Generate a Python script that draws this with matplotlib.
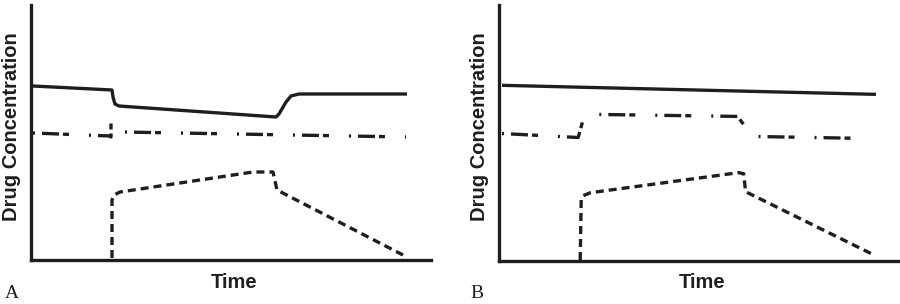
import numpy as np
import matplotlib.pyplot as plt

# =========================================================
# DATA (time / concentration in arbitrary units)
# =========================================================
# panel A
a_solid_t = [2, 81, 82, 84, 88, 245, 248, 255, 260, 268, 376]
a_solid_c = [174, 170, 163, 156, 154, 143, 146, 158, 164, 166, 166]

a_dashdot_t = [2, 79, 80, 80, 84, 91, 375]
a_dashdot_c = [127, 124, 123, 138, 137, 128, 123]

a_dashed_t = [81, 81, 83, 89, 222, 242, 246, 372]
a_dashed_c = [2, 60, 65, 68, 88, 88, 70, 5]

# panel B
b_solid_t = [3, 376]
b_solid_c = [175, 166]

b_dashdot_t = [3, 79, 84, 98, 238, 244, 257, 370]
b_dashdot_c = [127, 123, 141, 146, 144, 136, 124, 122]

b_dashed_t = [81, 82, 84, 91, 239, 244, 246, 374]
b_dashed_c = [1, 61, 65, 68, 88, 87, 69, 6]

# =========================================================
# STYLE
# =========================================================
SANS = ["Liberation Sans", "DejaVu Sans"]
SERIF = ["Liberation Serif", "DejaVu Serif"]
INK = "#1e1e1e"
LW = 2.4
DASHDOT = (0, (0.6, 2.1, 5.1, 1.2, 1.8, 6.0))
DASHED = (0, (2.4, 1.5))


def draw_panel(ax, solid, dashdot, dashed):
    ax.plot(*solid, color=INK, lw=LW, solid_capstyle="butt")
    ax.plot(*dashdot, color=INK, lw=LW, linestyle=DASHDOT)
    ax.plot(*dashed, color=INK, lw=LW, linestyle=DASHED)

    ax.set_xlim(0, 400)
    ax.set_ylim(0, 255)
    ax.set_xticks([])
    ax.set_yticks([])
    for s in ["top", "right"]:
        ax.spines[s].set_visible(False)
    for s in ["left", "bottom"]:
        ax.spines[s].set_linewidth(2.4)
        ax.spines[s].set_color(INK)
    ax.patch.set_alpha(0)


fig = plt.figure(figsize=(9, 3.04), dpi=100)

ax_a = fig.add_axes([31 / 900, 44 / 304, 400 / 900, 255 / 304])
ax_b = fig.add_axes([499 / 900, 43 / 304, 401 / 900, 256 / 304])

draw_panel(ax_a, (a_solid_t, a_solid_c), (a_dashdot_t, a_dashdot_c), (a_dashed_t, a_dashed_c))
draw_panel(ax_b, (b_solid_t, b_solid_c), (b_dashdot_t, b_dashdot_c), (b_dashed_t, b_dashed_c))

# labels (pixel positions from the reference)
def ftext(x, y, s, **kw):
    fig.text(x / 900, 1 - y / 304, s, ha="center", va="center", **kw)

for x_ylab, x_time in [(12, 234), (479, 702)]:
    ftext(x_ylab, 127, "Drug Concentration", rotation=90, fontsize=14.5,
          fontweight="bold", family=SANS, color=INK)
    ftext(x_time, 283, "Time", fontsize=14.5, fontweight="bold",
          family=SANS, color=INK)

ftext(12, 294, "A", fontsize=14, family=SERIF, color=INK)
ftext(477, 294, "B", fontsize=14, family=SERIF, color=INK)

fig.savefig("out.png", dpi=100)
